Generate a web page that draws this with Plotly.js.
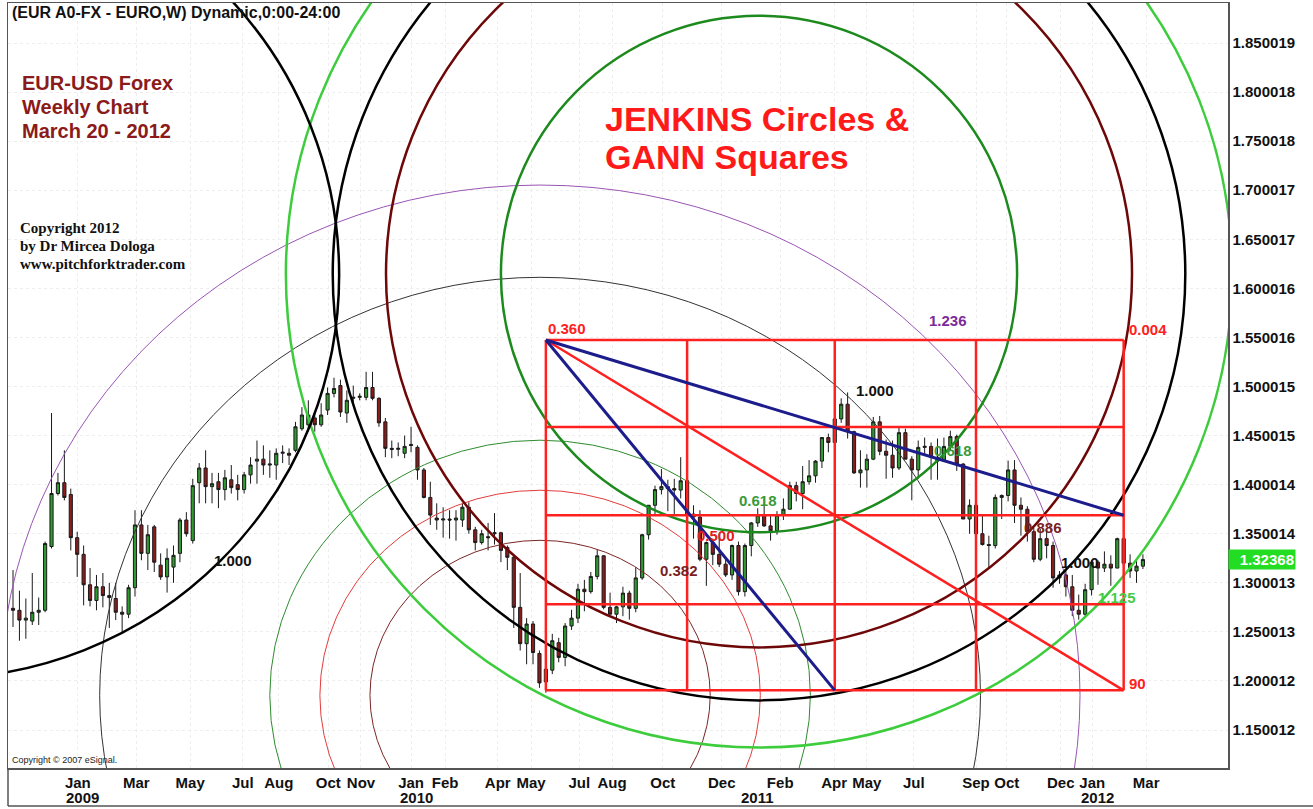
<!DOCTYPE html>
<html>
<head>
<meta charset="utf-8">
<script src="https://cdn.plot.ly/plotly-3.0.1.min.js"></script>
<style>
  html, body { margin: 0; padding: 0; background: #fff; }
  #chart { width: 1313px; height: 809px; }
</style>
</head>
<body>
<div id="chart"></div>
<script>
// EUR/USD weekly bars, first bar = week of 3 Nov 2008, last = week of 19 Mar 2012
var open = [
  1.274, 1.272, 1.262, 1.261, 1.270, 1.272, 1.337, 1.391, 1.402, 1.390,
  1.346, 1.329, 1.298, 1.282, 1.296, 1.287, 1.284, 1.270, 1.268, 1.295,
  1.359, 1.330, 1.357, 1.318, 1.306, 1.316, 1.330, 1.364, 1.343, 1.402,
  1.417, 1.398, 1.403, 1.395, 1.405, 1.400, 1.395, 1.410, 1.424, 1.426,
  1.420, 1.420, 1.432, 1.432, 1.435, 1.457, 1.461, 1.468, 1.461, 1.476,
  1.493, 1.501, 1.473, 1.488, 1.489, 1.489, 1.499, 1.488, 1.464, 1.437,
  1.436, 1.432, 1.441, 1.438, 1.415, 1.387, 1.366, 1.364, 1.365, 1.364,
  1.364, 1.377, 1.354, 1.341, 1.347, 1.350, 1.351, 1.336, 1.326, 1.275,
  1.238, 1.258, 1.228, 1.199, 1.211, 1.239, 1.224, 1.256, 1.264, 1.2935,
  1.291, 1.3065, 1.3275, 1.275, 1.268, 1.2755, 1.2895, 1.274, 1.305, 1.349,
  1.379, 1.395, 1.398, 1.396, 1.3945, 1.404, 1.370, 1.367, 1.324, 1.341,
  1.329, 1.319, 1.308, 1.338, 1.291, 1.338, 1.361, 1.369, 1.358, 1.353,
  1.369, 1.375, 1.399, 1.391, 1.403, 1.409, 1.424, 1.448, 1.443, 1.467,
  1.482, 1.454, 1.412, 1.415, 1.426, 1.464, 1.434, 1.430, 1.417, 1.453,
  1.426, 1.415, 1.438, 1.439, 1.428, 1.424, 1.439, 1.449, 1.421, 1.365,
  1.379, 1.350, 1.339, 1.338, 1.387, 1.389, 1.415, 1.379, 1.375, 1.352,
  1.324, 1.345, 1.338, 1.305, 1.308, 1.296, 1.272, 1.268, 1.293, 1.321,
  1.315, 1.319, 1.315, 1.345, 1.320, 1.312, 1.317
];
var high = [
  1.313, 1.292, 1.284, 1.310, 1.285, 1.342, 1.473, 1.412, 1.435, 1.396,
  1.352, 1.338, 1.315, 1.308, 1.310, 1.300, 1.300, 1.276, 1.298, 1.374,
  1.374, 1.359, 1.359, 1.330, 1.335, 1.338, 1.366, 1.372, 1.406, 1.422,
  1.435, 1.412, 1.412, 1.415, 1.420, 1.410, 1.413, 1.428, 1.445, 1.440,
  1.435, 1.437, 1.440, 1.437, 1.464, 1.479, 1.486, 1.473, 1.483, 1.499,
  1.509, 1.507, 1.496, 1.501, 1.493, 1.515, 1.515, 1.489, 1.468, 1.445,
  1.443, 1.450, 1.459, 1.440, 1.417, 1.403, 1.381, 1.377, 1.374, 1.374,
  1.381, 1.382, 1.357, 1.354, 1.361, 1.371, 1.352, 1.338, 1.328, 1.310,
  1.264, 1.261, 1.231, 1.236, 1.248, 1.244, 1.259, 1.2725, 1.299, 1.303,
  1.311, 1.3335, 1.328, 1.290, 1.2765, 1.296, 1.292, 1.316, 1.350, 1.379,
  1.399, 1.416, 1.405, 1.406, 1.428, 1.406, 1.379, 1.374, 1.342, 1.345,
  1.350, 1.325, 1.339, 1.342, 1.340, 1.362, 1.376, 1.386, 1.370, 1.373,
  1.386, 1.403, 1.403, 1.419, 1.425, 1.425, 1.448, 1.452, 1.468, 1.488,
  1.494, 1.455, 1.435, 1.431, 1.469, 1.470, 1.446, 1.445, 1.458, 1.457,
  1.429, 1.445, 1.448, 1.443, 1.447, 1.448, 1.455, 1.451, 1.422, 1.385,
  1.382, 1.370, 1.348, 1.390, 1.390, 1.4245, 1.425, 1.387, 1.378, 1.356,
  1.355, 1.355, 1.342, 1.312, 1.312, 1.308, 1.288, 1.299, 1.323, 1.323,
  1.332, 1.328, 1.346, 1.349, 1.329, 1.323, 1.329
];
var low = [
  1.255, 1.241, 1.243, 1.257, 1.257, 1.270, 1.335, 1.389, 1.384, 1.333,
  1.306, 1.277, 1.276, 1.272, 1.275, 1.254, 1.262, 1.249, 1.264, 1.286,
  1.323, 1.313, 1.311, 1.303, 1.290, 1.300, 1.321, 1.347, 1.340, 1.381,
  1.381, 1.381, 1.376, 1.384, 1.391, 1.384, 1.391, 1.401, 1.401, 1.410,
  1.407, 1.405, 1.422, 1.420, 1.433, 1.455, 1.454, 1.454, 1.459, 1.471,
  1.489, 1.469, 1.463, 1.483, 1.486, 1.486, 1.486, 1.459, 1.428, 1.427,
  1.429, 1.427, 1.433, 1.405, 1.386, 1.359, 1.354, 1.346, 1.345, 1.343,
  1.357, 1.350, 1.333, 1.339, 1.333, 1.339, 1.321, 1.313, 1.254, 1.231,
  1.217, 1.217, 1.193, 1.188, 1.207, 1.219, 1.215, 1.252, 1.259, 1.271,
  1.289, 1.3035, 1.273, 1.2685, 1.259, 1.266, 1.2625, 1.270, 1.303, 1.344,
  1.368, 1.390, 1.373, 1.370, 1.386, 1.358, 1.345, 1.322, 1.2969, 1.318,
  1.316, 1.306, 1.303, 1.287, 1.286, 1.327, 1.357, 1.357, 1.343, 1.349,
  1.364, 1.375, 1.383, 1.375, 1.400, 1.402, 1.417, 1.433, 1.432, 1.463,
  1.447, 1.411, 1.397, 1.397, 1.425, 1.430, 1.406, 1.407, 1.415, 1.426,
  1.384, 1.406, 1.430, 1.405, 1.405, 1.423, 1.435, 1.414, 1.365, 1.350,
  1.336, 1.338, 1.3145, 1.335, 1.365, 1.383, 1.361, 1.348, 1.342, 1.321,
  1.322, 1.325, 1.295, 1.299, 1.286, 1.266, 1.2624, 1.266, 1.287, 1.298,
  1.311, 1.297, 1.315, 1.313, 1.305, 1.300, 1.314
];
var close = [
  1.272, 1.262, 1.264, 1.270, 1.272, 1.340, 1.391, 1.402, 1.387, 1.346,
  1.329, 1.298, 1.282, 1.296, 1.287, 1.285, 1.270, 1.268, 1.295, 1.359,
  1.330, 1.349, 1.321, 1.306, 1.325, 1.328, 1.364, 1.350, 1.399, 1.417,
  1.398, 1.401, 1.395, 1.407, 1.397, 1.395, 1.410, 1.420, 1.426, 1.420,
  1.421, 1.432, 1.433, 1.430, 1.459, 1.471, 1.471, 1.461, 1.471, 1.493,
  1.498, 1.474, 1.486, 1.489, 1.490, 1.499, 1.488, 1.463, 1.437, 1.436,
  1.437, 1.439, 1.440, 1.415, 1.387, 1.369, 1.364, 1.365, 1.364, 1.366,
  1.377, 1.354, 1.341, 1.350, 1.346, 1.351, 1.333, 1.326, 1.275, 1.238,
  1.258, 1.229, 1.198, 1.212, 1.241, 1.224, 1.256, 1.264, 1.2935, 1.291,
  1.3065, 1.3275, 1.275, 1.268, 1.2755, 1.2895, 1.274, 1.305, 1.349, 1.379,
  1.395, 1.398, 1.396, 1.3945, 1.404, 1.370, 1.367, 1.324, 1.341, 1.329,
  1.319, 1.308, 1.338, 1.291, 1.338, 1.361, 1.369, 1.358, 1.353, 1.369,
  1.375, 1.399, 1.391, 1.403, 1.409, 1.424, 1.448, 1.443, 1.467, 1.482,
  1.454, 1.412, 1.415, 1.426, 1.464, 1.434, 1.430, 1.417, 1.453, 1.426,
  1.415, 1.438, 1.439, 1.428, 1.424, 1.439, 1.449, 1.421, 1.365, 1.379,
  1.350, 1.339, 1.338, 1.387, 1.389, 1.415, 1.379, 1.375, 1.352, 1.324,
  1.345, 1.338, 1.305, 1.308, 1.296, 1.272, 1.268, 1.293, 1.321, 1.315,
  1.319, 1.315, 1.345, 1.320, 1.312, 1.317, 1.32368
];
var lastPrice = 1.32368;

// time axis (bar index) labels
var monthTickPos = [10.1, 19.2, 27.6, 35.8, 41.4, 49.1, 54.2, 62.0, 67.3, 75.5, 80.7, 88.2,
  93.3, 101.2, 110.4, 119.5, 127.9, 133.0, 140.3, 150.0, 154.8, 163.2, 168.1, 176.5];
var monthTickText = ['Jan', 'Mar', 'May', 'Jul', 'Aug', 'Oct', 'Nov', 'Jan', 'Feb', 'Apr', 'May', 'Jul',
  'Aug', 'Oct', 'Dec', 'Feb', 'Apr', 'May', 'Jul', 'Sep', 'Oct', 'Dec', 'Jan', 'Mar'];
var yearPos = [10.9, 62.9, 115.9, 169.0];
var yearText = ['2009', '2010', '2011', '2012'];

var priceTicks = [1.150012, 1.200012, 1.250013, 1.300013, 1.350014, 1.400014, 1.450015, 1.500015,
  1.550016, 1.600016, 1.650017, 1.700017, 1.750018, 1.800018, 1.850019];

// Jenkins circles (centre bar, centre price, radius in bars, radius in price)
var jenkinsX = [116.2, 116.2, 116.2, 116.2, -12.0];
var jenkinsY = [1.6147, 1.6147, 1.6147, 1.6147, 1.6137];
var jenkinsRX = [40.2, 58.1, 66.4, 73.7, 62.8];
var jenkinsRY = [0.2632, 0.3805, 0.4345, 0.4825, 0.4111];

// Fibonacci circles around the June 2010 low
var fibX = 82.1;
var fibY = 1.1853;
var fibRX = [26.5, 34.3, 42.1, 68.6, 84.1];
var fibRY = [0.158, 0.209, 0.260, 0.426, 0.520];

// Gann square
var gannBars = [83, 105, 128, 150, 173];
var gannPrices = [1.1904, 1.2781, 1.3689, 1.4587, 1.5474];

var bars = close.map(function (v, i) { return i; });

var font = 'Liberation Sans, Arial, sans-serif';

var candles = {
  type: 'candlestick',
  x: bars,
  open: open,
  high: high,
  low: low,
  close: close,
  whiskerwidth: 0,
  increasing: { line: { color: '#1a1a1a', width: 1 }, fillcolor: '#2f9a2f' },
  decreasing: { line: { color: '#1a1a1a', width: 1 }, fillcolor: '#8a1c1c' },
  hoverinfo: 'none',
  showlegend: false
};

var shapes = [];

function ellipse(cx, cy, rx, ry, color, width) {
  return {
    type: 'circle', xref: 'x', yref: 'y',
    x0: cx - rx, x1: cx + rx, y0: cy - ry, y1: cy + ry,
    line: { color: color, width: width }
  };
}

var fibColors = ['#7a2626', '#e43c3c', '#2e8b2e', '#333333', '#9a55b4'];
fibRX.forEach(function (rx, i) {
  shapes.push(ellipse(fibX, fibY, rx, fibRY[i], fibColors[i], 1));
});

var jenkinsColors = ['#1c8a1c', '#6e0808', '#000000', '#3ccc3c', '#000000'];
var jenkinsWidths = [2.5, 2.5, 2.5, 2.5, 2.5];
jenkinsRX.forEach(function (rx, i) {
  shapes.push(ellipse(jenkinsX[i], jenkinsY[i], rx, jenkinsRY[i], jenkinsColors[i], jenkinsWidths[i]));
});

var gTop = gannPrices[gannPrices.length - 1];
var gBot = gannPrices[0];
var gLeft = gannBars[0];
var gRight = gannBars[gannBars.length - 1];
var red = '#ff2020';

gannBars.forEach(function (b) {
  shapes.push({ type: 'line', xref: 'x', yref: 'y', x0: b, x1: b, y0: gBot, y1: gTop,
    line: { color: red, width: 2.5 } });
});
gannPrices.forEach(function (p) {
  shapes.push({ type: 'line', xref: 'x', yref: 'y', x0: gLeft, x1: gRight, y0: p, y1: p,
    line: { color: red, width: 2.5 } });
});
// diagonal and angle lines from the top-left corner of the square
shapes.push({ type: 'line', xref: 'x', yref: 'y', x0: gLeft, y0: gTop, x1: gRight, y1: gBot,
  line: { color: red, width: 2.5 } });
shapes.push({ type: 'line', xref: 'x', yref: 'y', x0: gLeft, y0: gTop, x1: gannBars[2], y1: gBot,
  line: { color: '#1c1c8c', width: 3 } });
shapes.push({ type: 'line', xref: 'x', yref: 'y', x0: gLeft, y0: gTop, x1: gRight, y1: gannPrices[2],
  line: { color: '#1c1c8c', width: 3 } });

// frame under the time axis
var belowAxis = -38 / 765;
shapes.push({ type: 'line', xref: 'paper', yref: 'paper', x0: 0, x1: 1.075, y0: belowAxis, y1: belowAxis,
  line: { color: '#555', width: 1.5 } });
shapes.push({ type: 'line', xref: 'paper', yref: 'paper', x0: 0, x1: 0, y0: 0, y1: belowAxis,
  line: { color: '#555', width: 1.5 } });

var annotations = [];

function dataLabel(text, x, y, color, anchor) {
  annotations.push({
    text: text, x: x, y: y, xref: 'x', yref: 'y', xanchor: anchor || 'center', yanchor: 'middle',
    showarrow: false, font: { family: font, size: 15, color: color, weight: 'bold' }
  });
}
dataLabel('0.360', 83, 1.5596, red, 'left');
dataLabel('0.004', 173.5, 1.5586, red, 'left');
dataLabel('90', 173.5, 1.1975, red, 'left');
dataLabel('1.236', 145.6, 1.5668, '#7b2c9b');
dataLabel('1.000', 134.3, 1.4964, '#111');
dataLabel('0.618', 116.0, 1.3842, '#3a9a3a');
dataLabel('0.500', 109.5, 1.3485, '#e02020');
dataLabel('0.382', 103.7, 1.3128, '#7a1f1f');
dataLabel('0.618', 146.4, 1.4352, '#3a9a3a');
dataLabel('0.886', 160.4, 1.3561, '#7a1f1f');
dataLabel('1.000', 166.2, 1.3204, '#111');
dataLabel('1.125', 172.0, 1.2846, '#44cc44');
dataLabel('1.000', 34.3, 1.3230, '#111');

function paperText(text, x, y, size, color, family, weight) {
  annotations.push({
    text: text, x: x, y: y, xref: 'paper', yref: 'paper', xanchor: 'left', yanchor: 'middle',
    showarrow: false, font: { family: family || font, size: size, color: color, weight: weight || 'bold' }
  });
}
var serif = 'Liberation Serif, Times New Roman, serif';
paperText('(EUR A0-FX - EURO,W) Dynamic,0:00-24:00', 0.0016, 0.988, 16, '#111');
paperText('EUR-USD Forex', 0.0098, 0.8954, 20, '#8b1a1a');
paperText('Weekly Chart', 0.0098, 0.8641, 20, '#8b1a1a');
paperText('March 20 - 2012', 0.0098, 0.8327, 20, '#8b1a1a');
paperText('Copyright 2012', 0.0082, 0.7059, 15, '#111', serif);
paperText('by Dr Mircea Dologa', 0.0082, 0.6824, 15, '#111', serif);
paperText('www.pitchforktrader.com', 0.0082, 0.6588, 15, '#111', serif);
paperText('JENKINS Circles &amp;', 0.4877, 0.8484, 34, '#ff1a1a');
paperText('GANN Squares', 0.4877, 0.7987, 34, '#ff1a1a');
paperText('Copyright © 2007 eSignal.', 0.0016, 0.0105, 9, '#222', font, 'normal');

yearText.forEach(function (t, i) {
  annotations.push({
    text: t, x: yearPos[i], y: -29 / 765, xref: 'x', yref: 'paper', xanchor: 'center', yanchor: 'middle',
    showarrow: false, font: { family: font, size: 15, color: '#111', weight: 'bold' }
  });
});

annotations.push({
  text: lastPrice.toFixed(5), x: 1, y: lastPrice, xref: 'paper', yref: 'y', xanchor: 'left', yanchor: 'middle',
  showarrow: false, bgcolor: '#22dd22', width: 64, align: 'right', borderpad: 1,
  font: { family: font, size: 15, color: '#ffffff', weight: 'bold' }
});

var layout = {
  width: 1313,
  height: 809,
  margin: { l: 8, r: 85, t: 3, b: 41 },
  paper_bgcolor: '#ffffff',
  plot_bgcolor: '#ffffff',
  showlegend: false,
  font: { family: font, color: '#111' },
  xaxis: {
    type: 'linear',
    range: [-0.78, 189.25],
    rangeslider: { visible: false },
    tickmode: 'array',
    tickvals: monthTickPos,
    ticktext: monthTickText,
    tickfont: { family: font, size: 15, color: '#111', weight: 'bold' },
    ticks: '',
    showgrid: true,
    gridcolor: '#eeeeee',
    griddash: 'dot',
    zeroline: false,
    showline: true,
    linecolor: '#555',
    linewidth: 1.5,
    mirror: true,
    fixedrange: true
  },
  yaxis: {
    side: 'right',
    range: [1.1113, 1.8908],
    tickmode: 'array',
    tickvals: priceTicks,
    ticktext: priceTicks.map(function (v) { return v.toFixed(6); }),
    tickfont: { family: font, size: 15, color: '#111', weight: 'bold' },
    ticks: '',
    showgrid: true,
    gridcolor: '#eeeeee',
    griddash: 'dot',
    zeroline: false,
    showline: true,
    linecolor: '#555',
    linewidth: 1.5,
    mirror: true,
    fixedrange: true
  },
  shapes: shapes,
  annotations: annotations
};

Plotly.newPlot('chart', [candles], layout, { displayModeBar: false, staticPlot: true });
</script>
</body>
</html>
